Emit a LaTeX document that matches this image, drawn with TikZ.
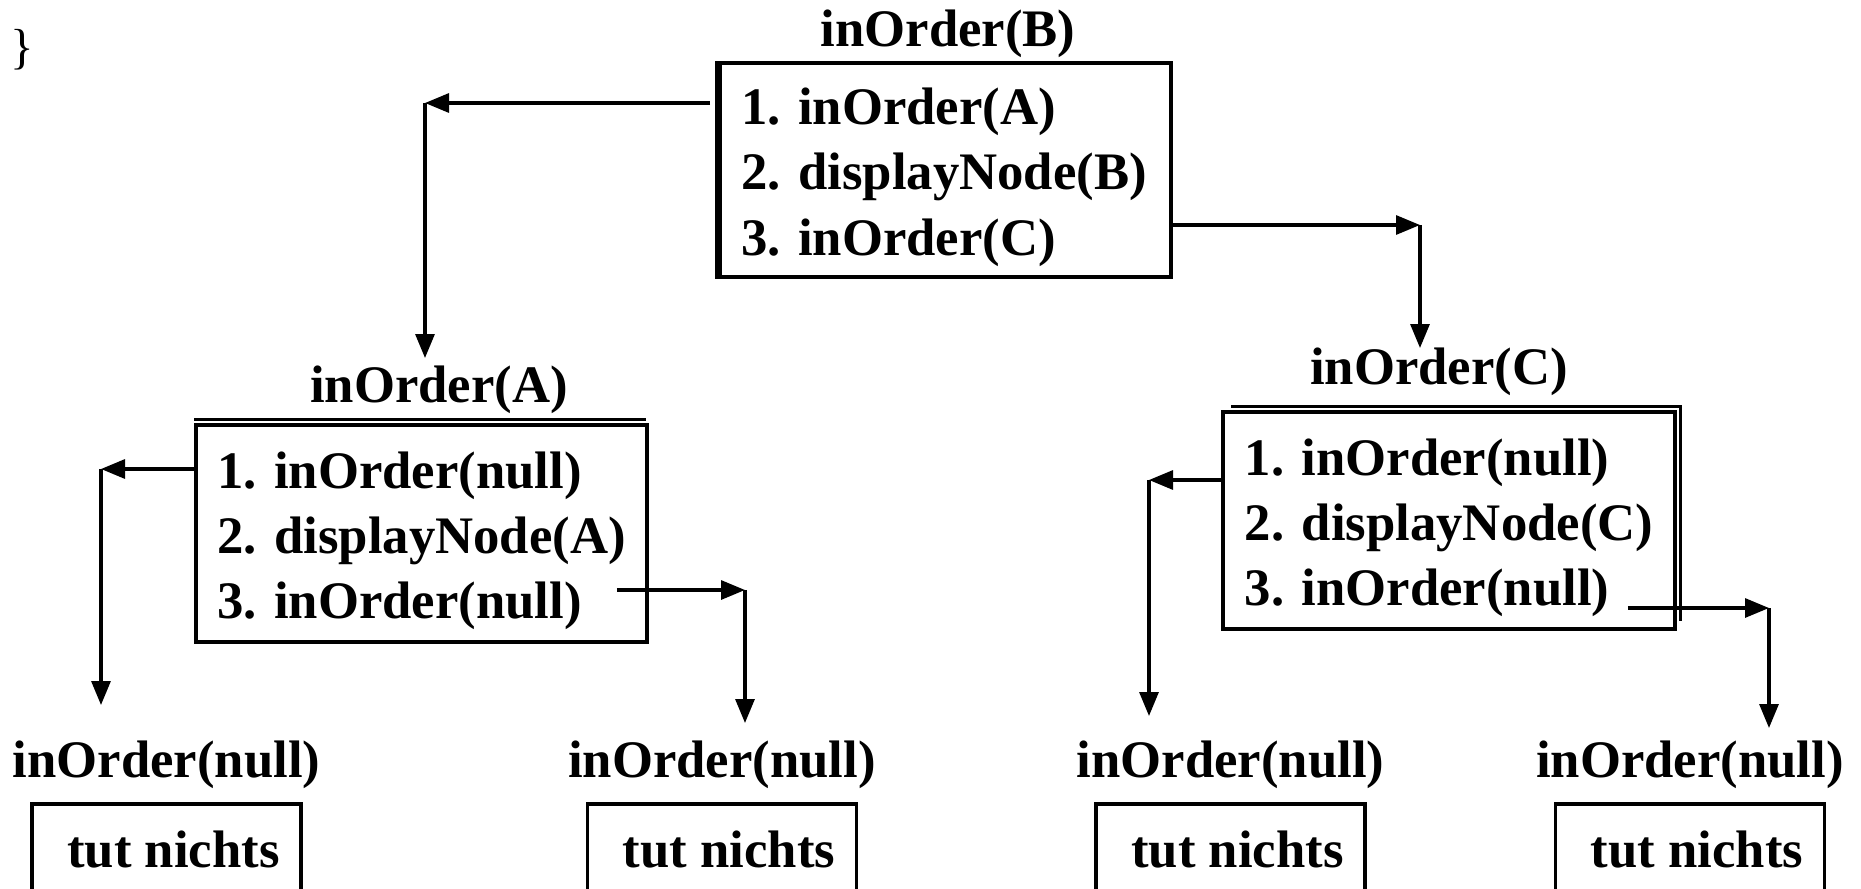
\documentclass[tikz,border=0pt]{standalone}
\usepackage{fontspec}
\setmainfont{Liberation Serif}
\usetikzlibrary{arrows.meta, positioning}
\newcommand{\topgap}{\rule{0pt}{5.1mm}}
\tikzset{
    callbox/.style={draw, line width=1pt, minimum width=4.52cm, minimum height=2.17cm, align=left, inner sep=0pt},
    nullbox/.style={draw, line width=1pt, minimum width=2.69cm, minimum height=0.92cm, inner sep=0pt},
    calllabel/.style={inner sep=0pt},
}

\begin{document}
\begin{tikzpicture}[
    >={Triangle[length=2.4mm, width=1.9mm]}, line width=0.9pt,
    every node/.style={font=\bfseries\fontsize{15}{18.6}\selectfont},
]
\useasboundingbox (0,0) rectangle (18.61,8.88);
\clip (0,0) rectangle (18.61,8.88);
\node[font=\normalfont\fontsize{14}{16}\selectfont] (brace) at (0.22,8.38) {\}};

% the three calls with bodies
\node[calllabel] (labB) at (9.48,8.545) {inOrder(B)};
\node[callbox, minimum width=4.54cm, minimum height=2.14cm] (boxB) at (9.44,7.18) {\topgap 1. inOrder(A)\\2. displayNode(B)\\3. inOrder(C)};
\draw ([xshift=0.5mm]boxB.north west) -- ([xshift=0.5mm]boxB.south west);

\node[calllabel] (labA) at (4.39,4.98) {inOrder(A)};
\node[callbox, minimum width=4.51cm] (boxA) at (4.215,3.545) {\topgap 1. inOrder(null)\\2. displayNode(A)\\3. inOrder(null)};
\draw ([yshift=0.4mm]boxA.north west) -- ([xshift=-0.3mm,yshift=0.4mm]boxA.north east);

\node[calllabel] (labC) at (14.39,5.16) {inOrder(C)};
\node[callbox] (boxC) at (14.49,3.675) {\topgap 1. inOrder(null)\\2. displayNode(C)\\3. inOrder(null)};
\draw ([xshift=1mm,yshift=0.4mm]boxC.north west) -- ([xshift=0.4mm,yshift=0.4mm]boxC.north east) -- ([xshift=0.4mm,yshift=1mm]boxC.south east);

% the four empty calls
\foreach \x/\n in {1.665/1, 7.22/2, 12.305/3, 16.90/4} {
    \node[calllabel] (null\n) at (\x,1.23) {inOrder(null)};
    \node[nullbox] (tut\n) at (\x,0.38) {\hspace*{1.4mm}tut nichts};
}

% calls
\coordinate (turnBA) at (4.25,7.85);
\coordinate (endBA) at (4.25,5.30);
\draw[->] ([xshift=-0.5mm]boxB.west |- turnBA) -- (turnBA);
\draw[->] (turnBA) -- (endBA);

\coordinate (turnBC) at (14.20,6.63);
\coordinate (endBC) at (14.20,5.40);
\draw[->] (boxB.east |- turnBC) -- (turnBC);
\draw[->] (turnBC) -- (endBC);

\coordinate (turnA1) at (1.01,4.19);
\coordinate (endA1) at (1.01,1.83);
\draw[->] (boxA.west |- turnA1) -- (turnA1);
\draw[->] (turnA1) -- (endA1);

\coordinate (turnA2) at (7.45,2.98);
\coordinate (endA2) at (7.45,1.65);
\draw[->] ([xshift=-3.2mm]boxA.east |- turnA2) -- (turnA2);
\draw[->] (turnA2) -- (endA2);

\coordinate (turnC1) at (11.49,4.08);
\coordinate (endC1) at (11.49,1.72);
\draw[->] (boxC.west |- turnC1) -- (turnC1);
\draw[->] (turnC1) -- (endC1);

\coordinate (turnC2) at (17.69,2.80);
\coordinate (endC2) at (17.69,1.60);
\draw[->] ([xshift=-4.9mm]boxC.east |- turnC2) -- (turnC2);
\draw[->] (turnC2) -- (endC2);
\end{tikzpicture}
\end{document}
